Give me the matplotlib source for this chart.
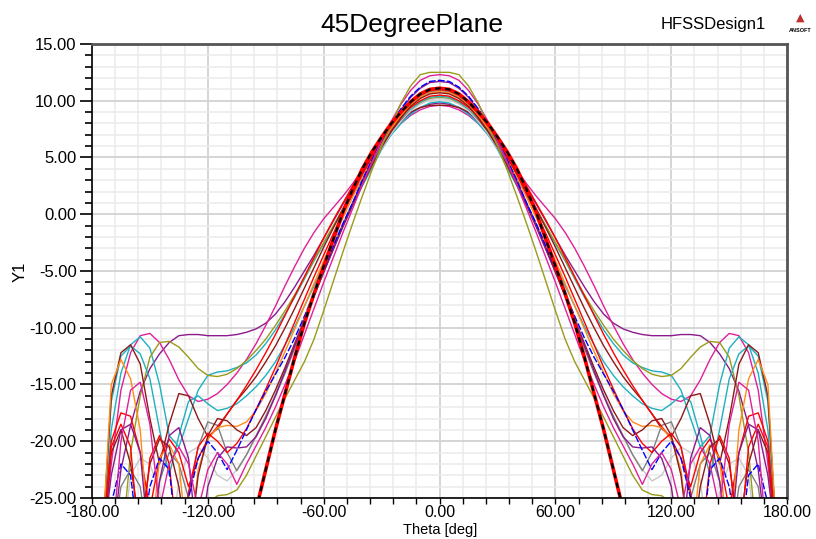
import matplotlib
matplotlib.use('Agg')
import matplotlib.pyplot as plt
import numpy as np
from matplotlib.ticker import MultipleLocator, FormatStrFormatter

plt.rcParams['font.family'] = ['Liberation Sans', 'DejaVu Sans']
plt.rcParams['axes.unicode_minus'] = False

# theta samples of the right half (deg); pattern is symmetric about 0
theta_half = [0, 5, 10, 15, 20, 25, 30, 35, 40, 45, 50, 55, 60, 65, 70, 75, 80, 85, 90,
              95, 100, 105, 110, 115, 120, 125, 130, 135, 140, 145, 150, 155, 160, 165,
              170, 175, 180]

purple_wide = [9.8, 9.7, 9.4, 8.9, 8.2, 7.3, 6.2, 5.0, 3.7, 2.3, 0.9, -0.6, -2.1, -3.6, -5.0,
               -6.4, -7.7, -8.8, -9.6, -10.1, -10.4, -10.6, -10.7, -10.7, -10.7, -10.6, -10.6,
               -10.7, -11.3, -12.3, -13.6, -15.6, -18.6, -22.5, -30, -30, -30]
magenta_wide = [9.6, 9.5, 9.2, 8.7, 8.0, 7.1, 6.1, 5.0, 3.9, 2.7, 1.6, 0.6, -0.4, -1.6, -3.0,
                -4.6, -6.3, -8.1, -9.8, -11.4, -12.8, -14.0, -15.0, -15.8, -16.3, -16.5, -16.0,
                -14.6, -12.8, -11.3, -10.5, -10.7, -12.2, -15.5, -22.0, -30, -30]
teal_wide = [9.9, 9.8, 9.4, 8.8, 8.0, 7.0, 5.8, 4.5, 3.1, 1.7, 0.3, -1.1, -2.6, -4.1, -5.7,
             -7.3, -8.8, -10.2, -11.4, -12.4, -13.1, -13.5, -13.8, -13.9, -14.2, -15.5, -18.0,
             -20.5, -19.5, -15.0, -11.8, -10.8, -11.5, -14.0, -19.0, -30, -30]
teal_2 = [10.4, 10.3, 9.9, 9.2, 8.3, 7.1, 5.7, 4.1, 2.5, 0.8, -0.9, -2.7, -4.5, -6.3, -8.1,
          -9.9, -11.5, -13.0, -14.2, -15.2, -16.0, -16.7, -17.1, -17.3, -16.7, -16.0, -16.5,
          -19.5, -23.0, -19.0, -14.5, -12.3, -11.6, -12.5, -16.5, -30, -30]
olive_wide = [10.3, 10.2, 9.8, 9.2, 8.4, 7.4, 6.2, 4.9, 3.5, 2.0, 0.5, -1.0, -2.5, -4.0, -5.6,
              -7.1, -8.5, -9.8, -11.0, -12.0, -12.9, -13.6, -14.1, -14.3, -14.2, -13.6, -12.6,
              -11.7, -11.2, -11.3, -12.6, -16.0, -21.0, -30, -30, -30, -30]
olive_narrow = [12.5, 12.5, 12.3, 11.3, 9.8, 7.9, 6.0, 3.9, 1.6, -0.8, -3.3, -5.9, -8.5, -11.0,
                -13.0, -14.6, -16.2, -17.9, -19.6, -21.3, -23.0, -24.3, -24.7, -24.8, -25.5,
                -30, -30, -30, -30, -30, -30, -30, -30, -30, -30, -30, -30]
maroon_1 = [9.6, 9.6, 9.4, 9.0, 8.3, 7.4, 6.3, 5.0, 3.6, 2.1, 0.5, -1.2, -2.9, -4.7, -6.5,
            -8.3, -10.0, -11.6, -13.0, -14.3, -15.4, -16.4, -17.6, -18.9, -19.6, -18.0, -16.0,
            -15.8, -18.5, -22.0, -18.0, -13.2, -11.5, -12.2, -16.0, -30, -30]
maroon_2 = [10.7, 10.6, 10.2, 9.5, 8.5, 7.3, 5.9, 4.3, 2.6, 0.8, -1.1, -3.1, -5.1, -7.2, -9.3,
            -11.4, -13.5, -15.5, -17.3, -18.8, -19.5, -19.0, -18.2, -18.0, -19.5, -23.0, -30,
            -24.0, -20.5, -19.8, -22.0, -28.0, -22.0, -19.0, -21.0, -30, -30]
red_1 = [11.0, 10.9, 10.5, 9.8, 8.9, 7.8, 6.5, 5.1, 3.5, 1.8, 0.1, -1.7, -3.6, -5.5, -7.5,
         -9.5, -11.5, -13.5, -15.4, -17.2, -18.9, -20.2, -21.0, -20.0, -19.3, -20.5, -24.5,
         -30, -22.0, -19.5, -21.5, -30, -20.5, -18.5, -20.5, -30, -30]
red_2 = [10.5, 10.4, 10.0, 9.4, 8.6, 7.6, 6.5, 5.3, 3.9, 2.5, 1.0, -0.5, -2.1, -3.8, -5.5,
         -7.2, -8.9, -10.6, -12.2, -13.7, -15.1, -16.4, -17.6, -18.7, -19.8, -21.5, -24.0,
         -21.0, -19.8, -21.5, -26.0, -21.0, -17.8, -17.5, -20.0, -30, -30]
blue = [11.8, 11.7, 11.2, 10.4, 9.3, 8.0, 6.5, 4.8, 3.0, 1.0, -0.8, -2.8, -4.9, -7.0, -9.0,
        -10.9, -12.6, -14.1, -15.6, -17.2, -19.0, -20.8, -22.5, -21.0, -20.0, -21.5, -25.0,
        -30, -22.5, -21.5, -24.0, -30, -23.0, -22.0, -25.5, -30, -30]
orange = [10.8, 10.7, 10.3, 9.6, 8.7, 7.6, 6.3, 4.8, 3.2, 1.5, -0.3, -2.2, -4.1, -6.1, -8.1,
          -10.1, -12.1, -14.0, -15.8, -17.3, -18.3, -18.7, -18.6, -18.8, -19.8, -22.5, -30,
          -22.0, -20.3, -21.5, -30, -19.0, -14.5, -12.8, -15.0, -30, -30]
gray = [10.9, 10.8, 10.4, 9.7, 8.7, 7.5, 6.1, 4.5, 2.8, 1.0, -0.9, -2.9, -5.0, -7.2, -9.5,
        -11.8, -14.0, -16.0, -17.8, -19.5, -21.2, -22.6, -21.0, -18.6, -18.3, -20.5, -25.0,
        -22.0, -21.0, -23.5, -30, -24.0, -22.5, -24.0, -30, -30, -30]
light_gray = [10.2, 10.1, 9.7, 9.1, 8.2, 7.1, 5.8, 4.3, 2.7, 1.0, -0.8, -2.7, -4.7, -6.8, -9.0,
              -11.3, -13.6, -15.8, -17.8, -19.6, -21.2, -22.5, -23.5, -23.0, -21.5, -20.5,
              -21.0, -23.5, -30, -24.5, -22.0, -21.5, -23.0, -30, -30, -30, -30]
purple_2 = [11.7, 11.6, 11.1, 10.3, 9.2, 7.9, 6.4, 4.7, 2.9, 1.0, -1.0, -3.0, -5.1, -7.2, -9.4,
            -11.6, -13.8, -16.0, -18.0, -19.6, -20.5, -20.6, -20.5, -21.5, -24.0, -30, -21.5,
            -18.8, -19.5, -23.5, -30, -21.0, -18.5, -19.0, -23.0, -30, -30]
magenta_2 = [12.3, 12.2, 11.8, 10.9, 9.7, 8.2, 6.5, 4.6, 2.6, 0.5, -1.6, -3.8, -6.0, -8.3,
             -10.6, -12.9, -15.0, -17.0, -18.8, -20.4, -22.0, -23.8, -22.0, -21.0, -22.5,
             -26.0, -22.0, -20.5, -22.0, -26.0, -18.5, -14.8, -15.5, -20.0, -30, -30, -30]
black_dash = [11.1, 11.0, 10.6, 9.9, 9.0, 8.0, 6.8, 5.5, 4.0, 2.2, 0.2, -2.2, -4.6, -7.0, -9.6,
              -12.6, -15.8, -19.0, -22.5, -26.0, -30, -30, -30, -30, -30, -30, -30, -30, -30,
              -30, -30, -30, -30, -30, -30, -30, -30]

C_PURPLE = '#8b1a8b'
C_MAGENTA = '#e0209a'
C_TEAL = '#1fb0c0'
C_OLIVE = '#9a9a1a'
C_MAROON = '#8b1a1a'


def mirror(v):
    v = np.asarray(v, dtype=float)
    return np.concatenate([v[::-1], v[1:]])


def main():
    th = np.asarray(theta_half, dtype=float)
    theta = np.concatenate([-th[::-1], th[1:]])

    fig = plt.figure(figsize=(8.16, 5.39), dpi=100)
    ax = fig.add_axes([0.1127, 0.0761, 0.852, 0.8423])

    series = [
        (purple_wide, C_PURPLE, '-'),
        (magenta_wide, C_MAGENTA, '-'),
        (teal_wide, C_TEAL, '-'),
        (olive_wide, C_OLIVE, '-'),
        (teal_2, C_TEAL, '-'),
        (maroon_1, C_MAROON, '-'),
        (light_gray, '#c8c8c8', '-'),
        (gray, '#808080', '-'),
        (red_2, 'red', '-'),
        (orange, '#ff8c1a', '-'),
        (maroon_2, C_MAROON, '-'),
        (red_1, 'red', '-'),
        (purple_2, C_PURPLE, '-'),
        (blue, 'blue', (0, (5, 1.5))),
        (magenta_2, C_MAGENTA, '-'),
        (olive_narrow, C_OLIVE, '-'),
    ]
    for vals, col, ls in series:
        ax.plot(theta, mirror(vals), color=col, lw=1.0, ls=ls)

    # red curve with black dashes on top
    ax.plot(theta, mirror(black_dash), color='red', lw=2.6)
    ax.plot(theta, mirror(black_dash), color='black', lw=1.6, ls=(0, (2.5, 2)))

    ax.set_xlim(-180, 180)
    ax.set_ylim(-25, 15)
    ax.xaxis.set_major_locator(MultipleLocator(60))
    ax.xaxis.set_minor_locator(MultipleLocator(12))
    ax.yaxis.set_major_locator(MultipleLocator(5))
    ax.yaxis.set_minor_locator(MultipleLocator(1))
    ax.xaxis.set_major_formatter(FormatStrFormatter('%.2f'))
    ax.yaxis.set_major_formatter(FormatStrFormatter('%.2f'))

    ax.set_axisbelow(True)
    ax.grid(which='minor', color='#ebebeb', lw=1.1)
    ax.grid(which='major', color='#d2d2d2', lw=1.3)

    ax.tick_params(axis='y', which='major', direction='out', length=9, width=1.2,
                   labelsize=12, pad=2)
    ax.tick_params(axis='y', which='minor', direction='out', length=5, width=1.2)
    ax.tick_params(axis='x', which='both', direction='out', length=4, width=1.0,
                   labelsize=11.5, pad=1)

    for s in ['left', 'bottom']:
        ax.spines[s].set_color('black')
        ax.spines[s].set_linewidth(1.2)
    for s in ['top', 'right']:
        ax.spines[s].set_color('#555555')
        ax.spines[s].set_linewidth(2)

    # titles and labels
    fig.text(412 / 816, 1 - 25 / 539, '45DegreePlane', fontsize=19, ha='center', va='center')
    fig.text(713 / 816, 1 - 25 / 539, 'HFSSDesign1', fontsize=12, ha='center', va='center')
    fig.text(800 / 816, 1 - 18 / 539, '\u25b2', fontsize=8, color='#c03030',
             ha='center', va='center', family='DejaVu Sans')
    fig.text(800 / 816, 1 - 31 / 539, 'ANSOFT', fontsize=4, ha='center', va='center',
             weight='bold')
    fig.text(440 / 816, 1 - 530 / 539, 'Theta [deg]', fontsize=10.5, ha='center',
             va='center')
    fig.text(20 / 816, 1 - 272 / 539, 'Y1', fontsize=12, ha='center', va='center',
             rotation=90)

    fig.savefig('out.png', dpi=100)


if __name__ == "__main__":
    main()
